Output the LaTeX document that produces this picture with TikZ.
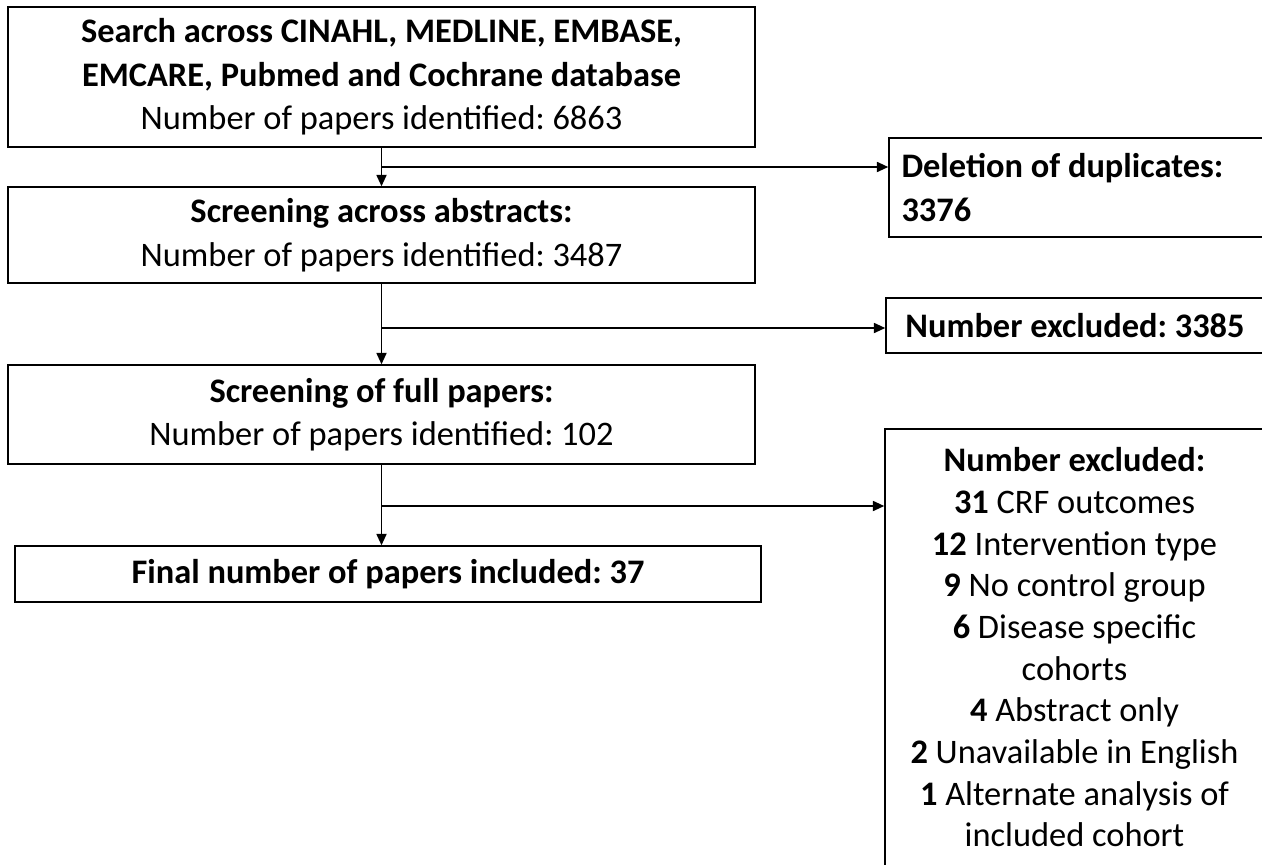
\documentclass[tikz,border=0pt]{standalone}
\usepackage{fontspec}
\setmainfont{Carlito}
\frenchspacing
\usetikzlibrary{arrows.meta}

\begin{document}
\begin{tikzpicture}[x=0.75pt,y=0.75pt,yscale=-1,xscale=1,
        box/.style={draw, line width=1.1pt, inner sep=0pt, align=center,
            font=\fontsize{25.8}{32.6}\selectfont},
        flow/.style={line width=1.3pt, -{Triangle[length=8.5pt,width=7.5pt]}}]
        \useasboundingbox (0,0) rectangle (1262,864);

        %Shape: Rectangle [search]
        \node (sea) at (381.5,77) [box, minimum width=747*0.75pt, minimum height=140*0.75pt]
            {\textbf{Search across CINAHL, MEDLINE, EMBASE,}\\
             \textbf{EMCARE, Pubmed and Cochrane database}\\
             Number of papers identified: 6863};
        %Shape: Rectangle [abstracts]
        \node (abs) at (381.5,235) [box, minimum width=747*0.75pt, minimum height=96*0.75pt]
            {\textbf{Screening across abstracts:}\\ Number of papers identified: 3487};
        %Shape: Rectangle [full papers]
        \node (full) at (381.5,414.5) [box, minimum width=747*0.75pt, minimum height=99*0.75pt]
            {\textbf{Screening of full papers:}\\ Number of papers identified: 102};
        %Shape: Rectangle [final]
        \node (fin) at (388,574) [box, minimum width=746*0.75pt, minimum height=56*0.75pt]
            {\textbf{Final number of papers included: 37}};

        %Shape: Rectangle [duplicates]
        \node (dup) at (1076.5,187.5) [box, align=flush left, text width=350*0.75pt,
            minimum width=375*0.75pt, minimum height=99*0.75pt]
            {\textbf{Deletion of duplicates:}\\ \textbf{3376}};
        %Shape: Rectangle [excluded abstracts]
        \node (exa) at (1075,325.5) [box, minimum width=378*0.75pt, minimum height=55*0.75pt]
            {\textbf{Number excluded: 3385}};
        %Shape: Rectangle [excluded full papers]
        \node (exf) at (1074.5,647.5) [box, minimum width=379*0.75pt, minimum height=437*0.75pt,
            font=\fontsize{25.8}{31.25}\selectfont]
            {\textbf{Number excluded:}\\
             \textbf{31} CRF outcomes\\
             \textbf{12} Intervention type\\
             \textbf{9} No control group\\
             \textbf{6} Disease specific\\
             cohorts\\
             \textbf{4} Abstract only\\
             \textbf{2} Unavailable in English\\
             \textbf{1} Alternate analysis of\\
             included cohort};

        % Branch points
        \coordinate (j1) at (381.5,167);
        \coordinate (j2) at (381.5,328);
        \coordinate (j3) at (381.5,506);

        %Straight Lines
        \draw [flow] (sea) -- (abs);
        \draw [flow] (j1) -- (j1 -| dup.west);
        \draw [flow] (abs) -- (full);
        \draw [flow] (j2) -- (j2 -| exa.west);
        \draw [flow] (full.south) -- (full.south |- fin.north);
        \draw [flow] (j3) -- (j3 -| exf.west);

\end{tikzpicture}
\end{document}
